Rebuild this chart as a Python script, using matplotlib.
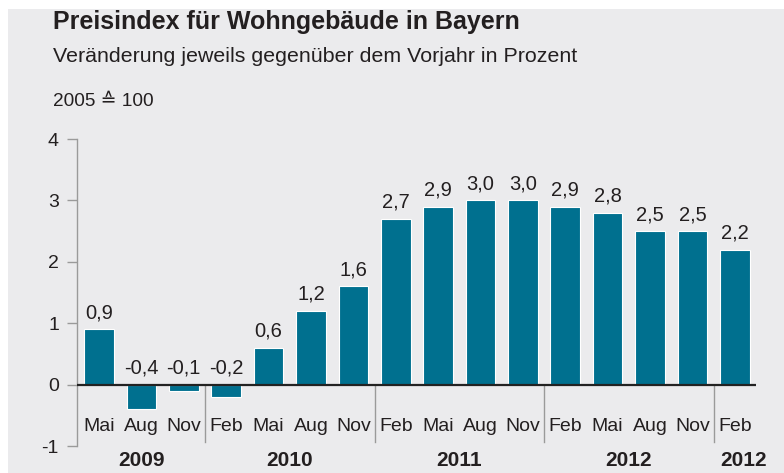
import matplotlib
matplotlib.use("Agg")
import matplotlib.pyplot as plt
from matplotlib.patches import Rectangle

plt.rcParams['font.family'] = ['Liberation Sans', 'DejaVu Sans']
plt.rcParams['axes.unicode_minus'] = False

months = ["Mai", "Aug", "Nov", "Feb", "Mai", "Aug", "Nov", "Feb", "Mai", "Aug", "Nov",
          "Feb", "Mai", "Aug", "Nov", "Feb"]
values = [0.9, -0.4, -0.1, -0.2, 0.6, 1.2, 1.6, 2.7, 2.9, 3.0, 3.0, 2.9, 2.8, 2.5, 2.5, 2.2]
years = ["2009", "2010", "2011", "2012", "2012"]
year_groups = [3, 4, 4, 4, 1]
yticks = [-1, 0, 1, 2, 3, 4]

title = "Preisindex für Wohngebäude in Bayern"
subtitle = "Veränderung jeweils gegenüber dem Vorjahr in Prozent"
note = "2005 \u2259 100"

BAR = "#00708f"
TXT = "#231f20"
GRAY = "#9a9a9a"

fig = plt.figure(figsize=(7.84, 4.73), dpi=100)
fig.patch.set_facecolor("white")
fig.add_artist(Rectangle((8 / 784, 0.0), 1 - 8 / 784, 1 - 8 / 473 - 1.5 / 473,
                         transform=fig.transFigure, facecolor="#ebebed",
                         edgecolor="none", zorder=0))

ax = fig.add_axes([77 / 784, 1 - 446 / 473, (756 - 77) / 784, (446 - 139) / 473])
ax.patch.set_visible(False)

x = list(range(len(values)))
bars = ax.bar(x, values, width=0.7, color=BAR, edgecolor="white", linewidth=0.8, zorder=2)

for xi, v in zip(x, values):
    ypos = v if v > 0 else 0
    ax.annotate(f"{v:.1f}".replace(".", ","), (xi, ypos), xytext=(0, 5),
                textcoords="offset points", ha="center", va="bottom",
                fontsize=14.5, color=TXT)

ax.set_xlim(-0.52, len(values) - 0.5)
ax.set_ylim(-1, 4)
ax.axhline(0, color="#222222", lw=1.6, zorder=3)

# month labels
for xi, m in zip(x, months):
    ax.text(xi, -0.69, m, ha="center", va="center", fontsize=14, color=TXT)

# year separators and labels
start = 0
for i, (yr, n) in enumerate(zip(years, year_groups)):
    end = start + n
    if i < len(years) - 1:
        ax.plot([end - 0.5, end - 0.5], [0, -0.93], color=GRAY, lw=1, zorder=1)
    cx = (start + end - 1) / 2
    if i == len(years) - 1:
        cx += 0.2
    ax.text(cx, -1.24, yr, ha="center", va="center", fontsize=15,
            fontweight="bold", color=TXT, clip_on=False)
    start = end

for s in ["top", "right", "bottom"]:
    ax.spines[s].set_visible(False)
ax.spines["left"].set_color(GRAY)
ax.spines["left"].set_linewidth(1)
ax.set_yticks(yticks)
ax.tick_params(axis="y", colors=GRAY, length=7, width=1, labelsize=14,
               labelcolor=TXT, pad=6)
ax.set_xticks([])

fig.text(53 / 784, 1 - 22 / 473, title, fontsize=18, fontweight="bold",
         color=TXT, ha="left", va="center")
fig.text(53 / 784, 1 - 57 / 473, subtitle, fontsize=15.4, color=TXT,
         ha="left", va="center")
fig.text(53 / 784, 1 - 101 / 473, note, fontsize=13.7, color=TXT,
         ha="left", va="center")

fig.savefig("out.png", dpi=100, facecolor=fig.get_facecolor())
